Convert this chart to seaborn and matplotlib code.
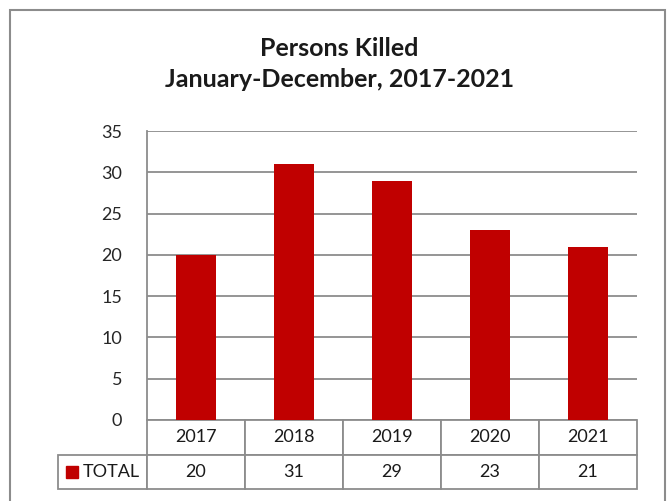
import matplotlib
matplotlib.use('Agg')
import matplotlib.pyplot as plt
import seaborn as sns
import pandas as pd
from matplotlib.table import Table
from matplotlib.patches import Rectangle

years = ['2017', '2018', '2019', '2020', '2021']
totals = [20, 31, 29, 23, 21]
series_name = 'TOTAL'
title = 'Persons Killed\nJanuary-December, 2017-2021'
yticks = [0, 5, 10, 15, 20, 25, 30, 35]

bar_color = '#C00000'
line_color = '#8C8C8C'

sns.set_style('white')
plt.rcParams['font.family'] = ['Lato', 'DejaVu Sans']

df = pd.DataFrame({'year': years, 'total': totals})

fig = plt.figure(figsize=(6.72, 5.01), dpi=100)
ax = fig.add_axes([147 / 672, 1 - 420 / 501, 490 / 672, 289 / 501])

sns.barplot(data=df, x='year', y='total', color=bar_color, width=0.41,
            saturation=1, linewidth=0, edgecolor='none', ax=ax, zorder=3)

ax.set_ylim(0, 35)
ax.set_xlim(-0.5, len(years) - 0.5)
ax.set_yticks(yticks)
ax.set_yticklabels([str(t) for t in yticks], fontsize=13)
ax.tick_params(axis='y', length=0, pad=18)
ax.set_xticks([])
ax.set_xlabel('')
ax.set_ylabel('')
ax.grid(axis='y', color=line_color, linewidth=1.3, zorder=0)
for side in ['top', 'right', 'bottom']:
    ax.spines[side].set_visible(False)
ax.spines['left'].set_color(line_color)
ax.spines['left'].set_linewidth(1.3)

# data table under the plot (Excel style)
label_w = 89 / 490
row_h = 69 / 289
tbl = Table(ax, bbox=[-label_w, -row_h, 1 + label_w, row_h])
col_w = 1 / len(years)
for i, y in enumerate(years):
    tbl.add_cell(0, i + 1, width=col_w, height=0.5, text=y, loc='center',
                 edgecolor=line_color)
tbl.add_cell(1, 0, width=label_w, height=0.5, text='', edgecolor=line_color)
for i, v in enumerate(totals):
    tbl.add_cell(1, i + 1, width=col_w, height=0.5, text=str(v), loc='center',
                 edgecolor=line_color)
tbl.auto_set_font_size(False)
tbl.set_fontsize(13)
for cell in tbl.get_celld().values():
    cell.set_linewidth(1.3)
    cell.get_text().set_color('#1a1a1a')
ax.add_table(tbl)

# legend key + series name in the row label cell
row2_y = -row_h * 0.75
ax.plot([-0.153], [row2_y], marker='s', markersize=8.5, color=bar_color,
        transform=ax.transAxes, clip_on=False)
ax.text(-0.131, row2_y, series_name, transform=ax.transAxes, ha='left',
        va='center', fontsize=13, color='#1a1a1a')

fig.text(0.505, 1 - 64 / 501, title, ha='center', va='center', fontsize=18,
         fontweight='bold', linespacing=1.45, color='#1a1a1a')

fig.patches.append(Rectangle((10 / 672, -0.05), 655 / 672, 1.05 - 10 / 501,
                             transform=fig.transFigure, fill=False,
                             edgecolor=line_color, linewidth=1.5))

fig.savefig('out.png', dpi=100)
